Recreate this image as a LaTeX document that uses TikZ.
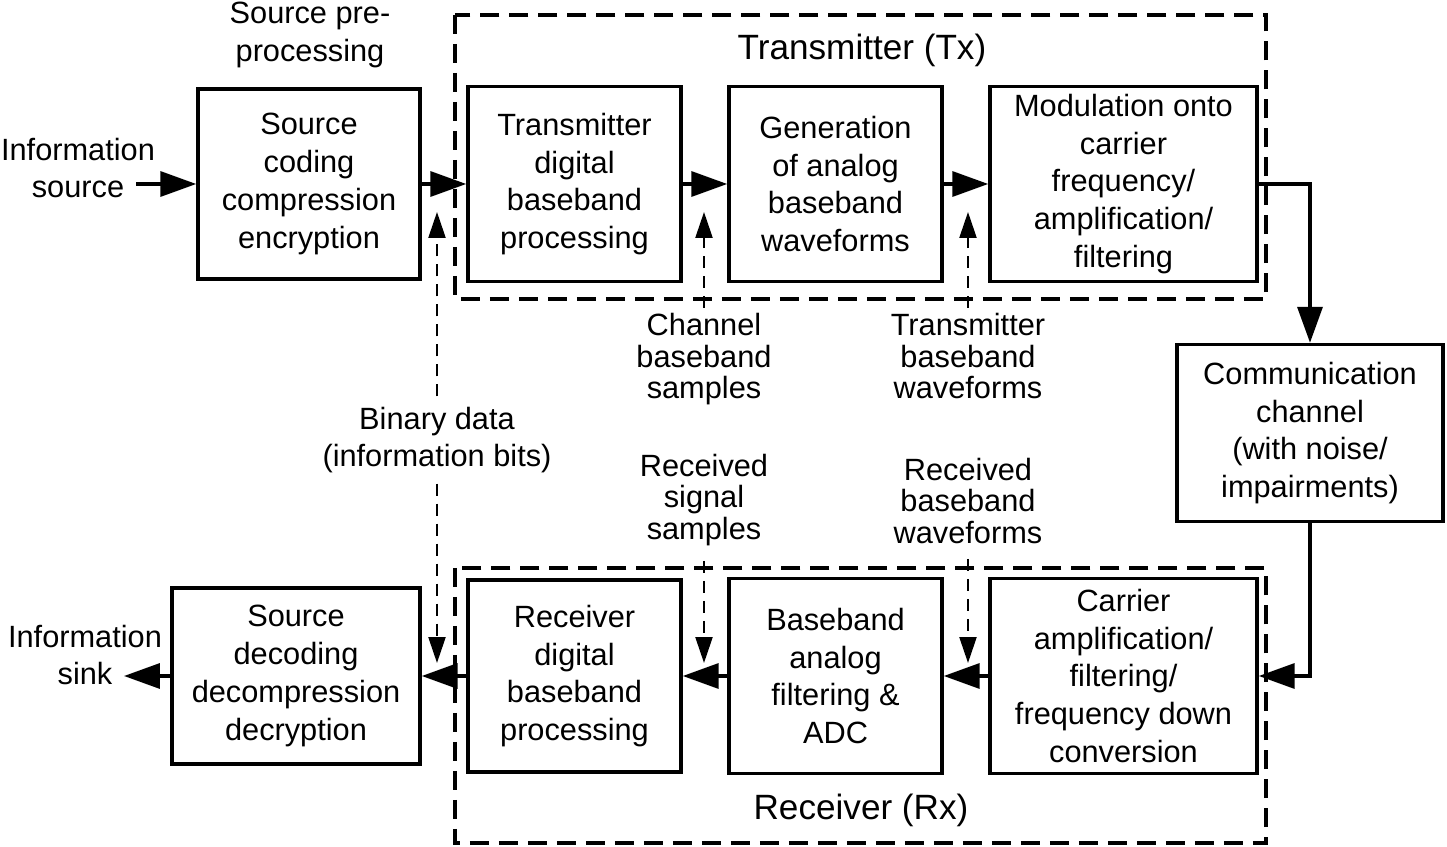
\documentclass[tikz,border=0pt]{standalone}
\usepackage{fontspec}
\setmainfont{Liberation Sans}
\usetikzlibrary{arrows.meta}

\begin{document}
\begin{tikzpicture}[x=0.02cm,y=-0.02cm,
        font=\fontsize{17.5}{21.5}\selectfont,
        blk/.style 2 args={rectangle,draw,line width=2pt,align=center,inner sep=0pt,minimum width=#1,minimum height=#2},
        lbl/.style={align=center,inner sep=0.1cm},
        tight/.style={font=\fontsize{17.5}{17.9}\selectfont},
        title/.style={font=\fontsize{20}{24}\selectfont},
        flow/.style={line width=2pt,-{Triangle[length=0.72cm,width=0.5cm]}},
        hint/.style={line width=1.3pt,dash pattern=on 0.24cm off 0.16cm,-{Triangle[length=0.52cm,width=0.34cm]}},
        group/.style={line width=2pt,dash pattern=on 0.38cm off 0.2cm}]
        \useasboundingbox (0,0) rectangle (1447,847);
        % transmitter and receiver groups
        \draw[group] (455,15) rectangle (1266,299);
        \draw[group] (455,568) rectangle (1266,843);
        % upper chain
        \node[blk={4.44cm}{3.8cm}] (srcenc) at (309,184) {Source\\coding\\compression\\encryption};
        \node[blk={4.26cm}{3.9cm}] (txdig) at (574.5,184) {Transmitter\\digital\\baseband\\processing};
        \node[blk={4.26cm}{3.9cm}] (gen) at (835.5,184) {Generation\\of analog\\baseband\\waveforms};
        \node[blk={5.34cm}{3.9cm}] (mod) at (1123.5,184) {Modulation onto\\carrier\\frequency/\\amplification/\\filtering};
        \node[blk={5.32cm}{3.54cm}] (chan) at (1310,433) {Communication\\channel\\(with noise/\\impairments)};
        % lower chain
        \node[blk={5.34cm}{3.9cm}] (carrier) at (1123.5,676) {Carrier\\amplification/\\filtering/\\frequency down\\conversion};
        \node[blk={4.26cm}{3.9cm}] (base) at (835.5,676) {Baseband\\analog\\filtering \&\\ADC};
        \node[blk={4.26cm}{3.84cm}] (rxdig) at (574.5,676) {Receiver\\digital\\baseband\\processing};
        \node[blk={4.96cm}{3.52cm}] (srcdec) at (296,676) {Source\\decoding\\decompression\\decryption};
        % labels
        \node[lbl] (srcpre) at (310,35) {Source pre-\\processing};
        \node[lbl,title] (txlab) at (862,50) {Transmitter (Tx)};
        \node[lbl,title] (rxlab) at (861,810) {Receiver (Rx)};
        \node[lbl] (infsrc) at (78,168) {Information\\source};
        \node[lbl] (infsink) at (85,655) {Information\\sink};
        \node[lbl,tight,anchor=north] (chlab) at (704,308) {Channel\\baseband\\samples};
        \node[lbl,tight,anchor=north] (txwlab) at (968,308) {Transmitter\\baseband\\waveforms};
        \node[lbl,inner ysep=0.2cm] (bitlab) at (437,440) {Binary data\\(information bits)};
        \node[lbl,tight,anchor=south] (rslab) at (704,551) {Received\\signal\\samples};
        \node[lbl,tight,anchor=south] (rwlab) at (968,549) {Received\\baseband\\waveforms};
        \coordinate (srcin) at (136,184); \coordinate (sinkout) at (124,676);
        \coordinate (bitup) at (437,212); \coordinate (bitdn) at (437,663);
        \coordinate (chtip) at (704,212); \coordinate (txwtip) at (968,212);
        \coordinate (rstip) at (704,663); \coordinate (rwtip) at (968,663);
        % signal flow
        \draw[flow] (srcin) -- (srcenc);
        \draw[flow] (srcenc) -- (txdig);
        \draw[flow] (txdig) -- (gen);
        \draw[flow] (gen) -- (mod);
        \draw[flow] (mod.east) -| (chan.north);
        \draw[flow] (chan.south) |- (carrier.east);
        \draw[flow] (carrier) -- (base);
        \draw[flow] (base) -- (rxdig);
        \draw[flow] (rxdig) -- (srcdec);
        \draw[flow] (srcdec) -- (sinkout);
        % signal names
        \draw[hint] (bitlab.north) -- (bitup);
        \draw[hint] (bitlab.south) -- (bitdn);
        \draw[hint] (chlab.north) -- (chtip);
        \draw[hint] (txwlab.north) -- (txwtip);
        \draw[hint,shorten <=0.2cm] (rslab.south) -- (rstip);
        \draw[hint,shorten <=0.2cm] (rwlab.south) -- (rwtip);
    \end{tikzpicture}
\end{document}
